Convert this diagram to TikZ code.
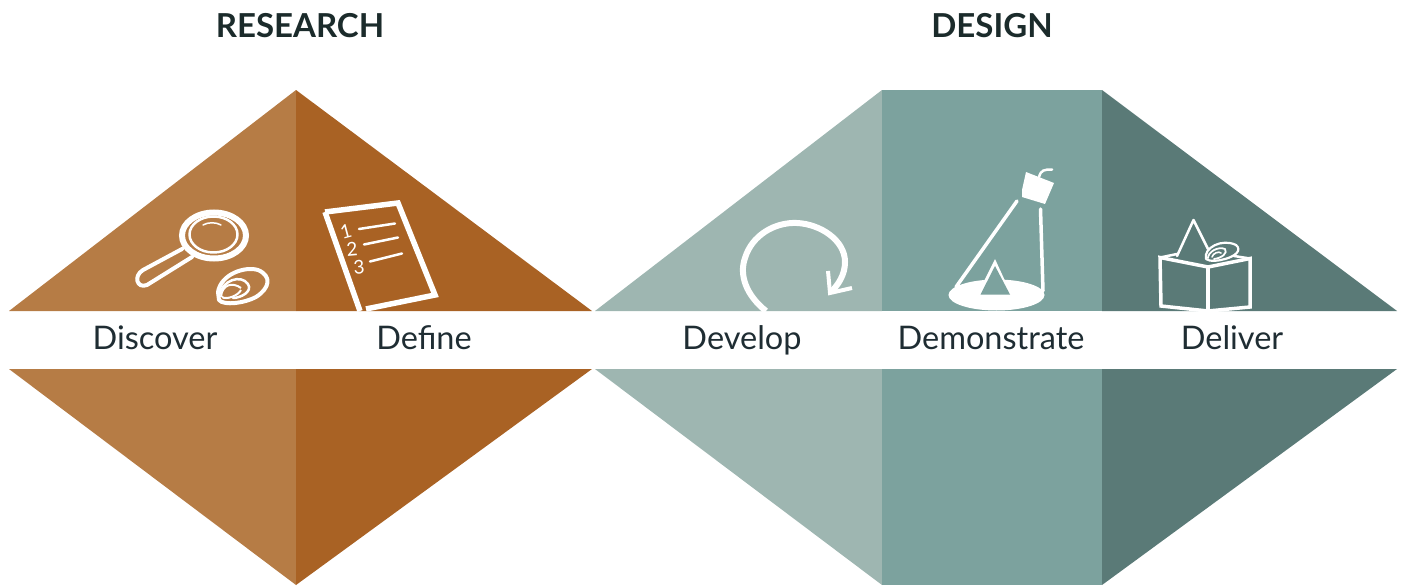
\documentclass[tikz,border=0pt]{standalone}
\usepackage{fontspec}
\setmainfont{Lato}
\tikzset{
  head/.style={font=\fontsize{33}{40}\selectfont\bfseries,text=headc,inner sep=0pt,anchor=base},
  lab/.style={font=\fontsize{32.5}{40}\selectfont,text=labc,inner sep=0pt,anchor=base},
  ic/.style={draw=white,line width=4pt,fill=none,line join=round,line cap=round},
  thin ic/.style={draw=white,line width=2.5pt,fill=none,line join=round,line cap=round},
  num/.style={font=\fontsize{19}{20}\selectfont,text=white,inner sep=0pt}
}
\definecolor{headc}{HTML}{1B2B2B}
\definecolor{labc}{HTML}{1F2D33}
\definecolor{rl}{HTML}{B67C45}
\definecolor{rd}{HTML}{A96224}
\definecolor{dl}{HTML}{9EB6B1}
\definecolor{dm}{HTML}{7CA29E}
\definecolor{dd}{HTML}{5A7A77}
\begin{document}
\begin{tikzpicture}[x=1pt,y=-1pt]
\useasboundingbox (0,0) rectangle (1405,586);
% Research
\fill[rl] (9,311) -- (296,90) -- (296,311) -- cycle;
\fill[rd] (296,90) -- (592,311) -- (296,311) -- cycle;
\fill[rl] (9,369) -- (296,585) -- (296,369) -- cycle;
\fill[rd] (296,585) -- (592,369) -- (296,369) -- cycle;
% Design
\fill[dl] (595,311) -- (882,90) -- (882,311) -- cycle;
\fill[dm] (882,90) rectangle (1102,311);
\fill[dd] (1102,90) -- (1397,311) -- (1102,311) -- cycle;
\fill[dl] (595,369) -- (882,585) -- (882,369) -- cycle;
\fill[dm] (882,369) rectangle (1102,585);
\fill[dd] (1102,585) -- (1397,369) -- (1102,369) -- cycle;
% Titles
\node[head] (tr) at (300,38) {RESEARCH};
\node[head] (td) at (992,38) {DESIGN};
% Labels
\node[lab] (l1) at (155,349) {Discover};
\node[lab] (l2) at (424,349) {Define};
\node[lab] (l3) at (742,349) {Develop};
\node[lab] (l4) at (991,349) {Demonstrate};
\node[lab] (l5) at (1232,349) {Deliver};
% Magnifier
\draw[white,line width=6pt] (214,235.5) ellipse [x radius=32,y radius=23];
\draw[thin ic] (213.5,234.5) ellipse [x radius=24,y radius=18];
\draw[white,line width=1.5pt,line cap=round] (203,225) .. controls (208,222) and (216,222) .. (221,225);
\draw[ic] (182,249) -- (143,270) .. controls (133,276) and (137,289) .. (147,285)
  -- (192,257);
% Shell
\draw[ic] (218,292) .. controls (221,274) and (245,266) .. (258,270)
  .. controls (272,276) and (270,288) .. (256,297)
  .. controls (245,303) and (224,306) .. (219,300) -- cycle;
\draw[thin ic] (219,296) .. controls (222,280) and (241,274) .. (248,284)
  .. controls (253,292) and (240,298) .. (233,298);
\draw[white,line width=2pt] (221,297) .. controls (222,284) and (233,282) .. (241,288);
\draw[white,line width=2pt] (222,297) .. controls (226,300) and (238,296) .. (241,290);
% Document
\draw[white,line width=5.5pt,line join=miter] (325,212) -- (398,203) -- (435,295) -- (366,309);
\draw[white,line width=5.5pt] (325,212) -- (360,311);
\draw[thin ic] (359,229) -- (395,223.5);
\draw[thin ic] (364,244.5) -- (398,237.5);
\draw[thin ic] (370,261.5) -- (402,253.5);
\node[num,rotate=15] (n1) at (346,231) {1};
\node[num,rotate=5] (n2) at (352,249) {2};
\node[num,rotate=5] (n3) at (359,267) {3};
% Loop
\draw[white,line width=6pt,line cap=butt] (766,311) .. controls (746,295) and (739,275) .. (745,258)
  .. controls (752,235) and (775,222) .. (797,223)
  .. controls (820,224) and (845,240) .. (845,262)
  .. controls (845,275) and (838,285) .. (831,292);
\draw[white,line width=4pt,line join=miter,line cap=butt] (828,271) -- (830,293) -- (852,288);
% Projector
\fill[white] (1026,172) -- (1054,183) -- (1045,204) -- (1022,197) -- (1022,190) -- cycle;
\draw[white,line width=2.5pt,line cap=round] (1039,177) .. controls (1041,170) and (1044,169.5) .. (1052,169.5);
\draw[white,line width=3.5pt,line cap=round] (1017,201) -- (956,287);
\draw[white,line width=3.5pt,line cap=round] (1040.5,209) -- (1043,291);
\fill[white] (996.5,295) ellipse [x radius=48,y radius=15.5];
\fill[white] (995,259) -- (982,285) -- (1012,296) -- cycle;
\fill[dm] (995,266) -- (980.5,294.5) -- (1010,294.5) -- cycle;
% Box
\draw[ic,line width=3.5pt,line join=miter,line cap=butt] (1160,257.5) -- (1208,267) -- (1250,258.5) -- (1250,307) -- (1208,311) -- (1161,306) -- cycle;
\draw[ic,line width=3.5pt,line cap=butt] (1208,267) -- (1208,311);
\draw[ic,line width=2.5pt] (1160,257.5) -- (1177,254);
\draw[ic,line width=2.5pt] (1234,256) -- (1250,258.5);
\draw[thin ic] (1177,256) -- (1193.5,220) -- (1208,249);
\draw[ic,line width=2.2pt] (1206,259) .. controls (1203,248) and (1222,238) .. (1236,245)
  .. controls (1242,250) and (1236,256) .. (1225,259) .. controls (1218,261) and (1210,262) .. (1206,259);
\draw[ic,line width=1.8pt] (1208,258) .. controls (1208,252) and (1218,246) .. (1225,249) .. controls (1228,253) and (1222,258) .. (1214,259);
\draw[ic,line width=1.6pt] (1212,257) .. controls (1213,253) and (1219,251) .. (1221,253);
\end{tikzpicture}
\end{document}
